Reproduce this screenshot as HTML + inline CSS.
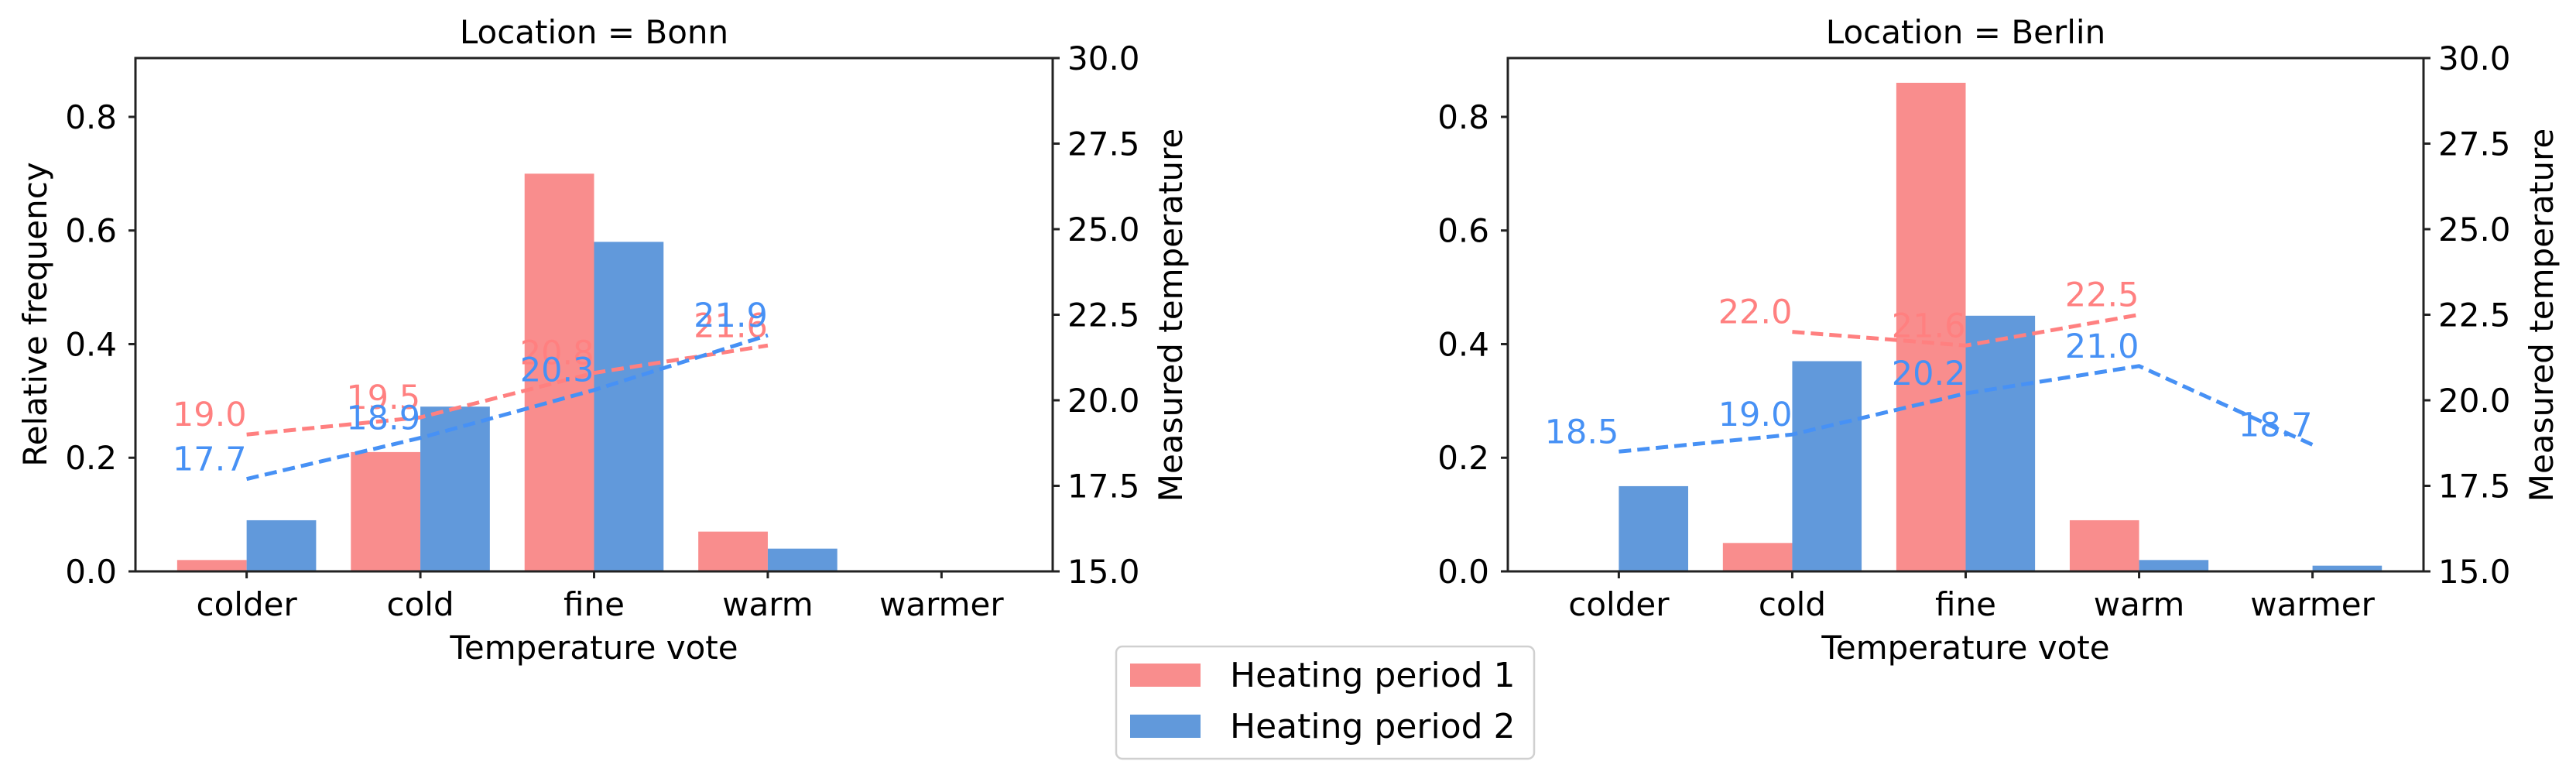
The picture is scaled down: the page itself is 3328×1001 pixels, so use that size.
<!DOCTYPE html>
<html><head><meta charset="utf-8"><style>
html,body{margin:0;padding:0;background:#fff;}
svg{display:block;font-family:"DejaVu Sans","Liberation Sans",sans-serif;}
</style></head><body>
<svg id="chart" width="3328" height="1001" viewBox="0 0 3328 1001" xmlns="http://www.w3.org/2000/svg">
<g id="legend">
<rect x="1442" y="835" width="540" height="145" rx="8" fill="#fff" stroke="#d0d0d0" stroke-width="2.5"/>
<rect x="1460" y="857" width="91" height="30" fill="#f98d8d"/>
<text x="1589" y="887" font-size="44" fill="#000">Heating period 1</text>
<rect x="1460" y="923" width="91" height="30" fill="#6199db"/>
<text x="1589" y="953" font-size="44" fill="#000">Heating period 2</text>
</g>
</svg>
<script>
const categories = ["colder","cold","fine","warm","warmer"];
const bonnFreqP1 = [0.02,0.21,0.70,0.07,0];
const bonnFreqP2 = [0.09,0.29,0.58,0.04,0];
const bonnTempP1 = [19.0,19.5,20.8,21.6,null];
const bonnTempP2 = [17.7,18.9,20.3,21.9,null];
const berlinFreqP1 = [0,0.05,0.86,0.09,0];
const berlinFreqP2 = [0.15,0.37,0.45,0.02,0.01];
const berlinTempP1 = [null,22.0,21.6,22.5,null];
const berlinTempP2 = [18.5,19.0,20.2,21.0,18.7];
const leftTicks = [0.0,0.2,0.4,0.6,0.8];
const rightTicks = [15.0,17.5,20.0,22.5,25.0,27.5,30.0];

const NS="http://www.w3.org/2000/svg";
const svg=document.getElementById('chart');
function mk(tag,attrs,parent){const e=document.createElementNS(NS,tag);for(const k in attrs)e.setAttribute(k,attrs[k]);(parent||svg).appendChild(e);return e;}

function panel(x0,x1,title,slug,f1,f2,t1,t2,showLeftLabel){
  const y0=75,y1=738;
  const g=mk('g',{});
  
  
  const xs=i=>x0+(i+0.64)/5.28*(x1-x0);
  const yl=v=>y1-v/0.9035*(y1-y0);
  const yr=v=>y1-(v-15)/15*(y1-y0);
  const step=(x1-x0)/5.28, bw=0.4*step;
  categories.forEach((c,i)=>{
    [[f1,'#f98d8d',-bw,'p1'],[f2,'#6199db',0,'p2']].forEach(([arr,col,off,p])=>{
      const v=arr[i]; if(!v) return;
      const r=mk('rect',{x:xs(i)+off,y:yl(v),width:bw,height:yl(0)-yl(v),fill:col},g);
      
      
    });
  });
  [[t1,'#ff8080','p1'],[t2,'#4791f5','p2']].forEach(([arr,col,p])=>{
    const pts=[];arr.forEach((v,i)=>{if(v!=null)pts.push([xs(i),yr(v),v]);});
    const l=mk('polyline',{points:pts.map(q=>q[0]+','+q[1]).join(' '),fill:'none',stroke:col,'stroke-width':5,'stroke-dasharray':'16,8'},g);
    
    
    pts.forEach(q=>{
      const t=mk('text',{x:q[0],y:q[1]-11,'text-anchor':'end','font-size':43,fill:col},g);
      t.textContent=q[2].toFixed(1);
      
      
    });
  });
  const fr=mk('rect',{x:x0,y:y0,width:x1-x0,height:y1-y0,fill:'none',stroke:'#222','stroke-width':3},g);
  
  
  leftTicks.forEach(v=>{
    mk('line',{x1:x0-9,x2:x0,y1:yl(v),y2:yl(v),stroke:'#222','stroke-width':3},g);
    const t=mk('text',{x:x0-24,y:yl(v)+15,'text-anchor':'end','font-size':42},g);
    t.textContent=v.toFixed(1);
    
    
  });
  rightTicks.forEach(v=>{
    mk('line',{x1:x1,x2:x1+9,y1:yr(v),y2:yr(v),stroke:'#222','stroke-width':3},g);
    const t=mk('text',{x:x1+19,y:yr(v)+15,'font-size':42},g);
    t.textContent=v.toFixed(1);
    
    
  });
  categories.forEach((c,i)=>{
    mk('line',{x1:xs(i),x2:xs(i),y1:y1,y2:y1+9,stroke:'#222','stroke-width':3},g);
    const t=mk('text',{x:xs(i),y:795,'text-anchor':'middle','font-size':42},g);
    t.textContent=c;
    
    
  });
  const cx=(x0+x1)/2;
  const tt=mk('text',{x:cx,y:56,'text-anchor':'middle','font-size':42},g);
  tt.textContent=title;
  
  
  const xt=mk('text',{x:cx,y:851,'text-anchor':'middle','font-size':42},g);
  xt.textContent='Temperature vote';
  
  
  if(showLeftLabel){
    const yt=mk('text',{x:0,y:0,'text-anchor':'middle','font-size':42,transform:'translate(60,406) rotate(-90)'},g);
    yt.textContent='Relative frequency';
    
    
  }
  const rt=mk('text',{x:0,y:0,'text-anchor':'middle','font-size':42,transform:'translate('+(x1+167)+',407) rotate(-90)'},g);
  rt.textContent='Measured temperature';
  
  
}
panel(175,1360,'Location = Bonn','bonn',bonnFreqP1,bonnFreqP2,bonnTempP1,bonnTempP2,true);
panel(1948,3131,'Location = Berlin','berlin',berlinFreqP1,berlinFreqP2,berlinTempP1,berlinTempP2,false);
svg.appendChild(document.getElementById('legend'));
</script>
</body></html>
